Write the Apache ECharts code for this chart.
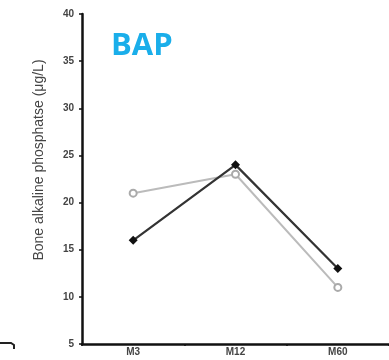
<!DOCTYPE html>
<html><head><meta charset="utf-8">
<script src="https://cdn.jsdelivr.net/npm/echarts@6/dist/echarts.min.js"></script>
<style>html,body{margin:0;padding:0;background:#fff}#c{width:389px;height:360px}</style>
</head><body><div id="c"></div>
<script>
var categories = ['M3', 'M12', 'M60'];
var seriesBlack = [16, 24, 13];
var seriesGray = [21, 23, 11];
var yTicks = [5, 10, 15, 20, 25, 30, 35, 40];
var titleText = 'BAP';
var yName = 'Bone alkaline phosphatse (\u03bcg/L)';

var chart = echarts.init(document.getElementById('c'), null, {renderer: 'canvas'});
chart.setOption({
  animation: false,
  backgroundColor: '#fff',
  grid: {left: 82, top: 14, bottom: 16, right: -2, containLabel: false},
  xAxis: {
    type: 'category', data: categories, boundaryGap: true,
    axisLine: {lineStyle: {color: '#111', width: 2.5}},
    axisTick: {show: true, length: 2, lineStyle: {color: '#111', width: 1.5}, interval: 0},
    axisLabel: {color: '#444', fontSize: 10, fontWeight: 'bold', fontFamily: 'Liberation Sans', margin: 3}
  },
  yAxis: {
    type: 'value', min: yTicks[0], max: yTicks[yTicks.length - 1], interval: 5,
    axisLine: {show: true, lineStyle: {color: '#111', width: 2.5}},
    axisTick: {show: true, length: 3, lineStyle: {color: '#111', width: 1.5}},
    axisLabel: {color: '#444', fontSize: 10, fontWeight: 'bold', fontFamily: 'Liberation Sans', margin: 8},
    splitLine: {show: false}
  },
  graphic: [
    {type: 'text', left: 111, top: 31, style: {text: titleText, fill: '#1aaeea', font: 'bold 31px "Open Sans"'}},
    {type: 'text', x: 39, y: 160, rotation: Math.PI / 2,
     style: {text: yName, fill: '#444', font: '14px "Liberation Sans"', textAlign: 'center', textVerticalAlign: 'middle'}},
    {type: 'polyline', shape: {points: [[0, 343], [11, 343], [14, 345], [14, 349]]},
     style: {stroke: '#222', lineWidth: 2, fill: null}}
  ],
  series: [
    {type: 'line', data: seriesGray, symbol: 'circle', symbolSize: 7,
     lineStyle: {color: '#bbb', width: 2},
     itemStyle: {color: '#fff', borderColor: '#aaa', borderWidth: 2}, z: 2},
    {type: 'line', data: seriesBlack, symbol: 'diamond', symbolSize: 9,
     lineStyle: {color: '#333', width: 2.2},
     itemStyle: {color: '#111', borderColor: '#111', borderWidth: 0}, z: 3}
  ]
});
</script></body></html>
